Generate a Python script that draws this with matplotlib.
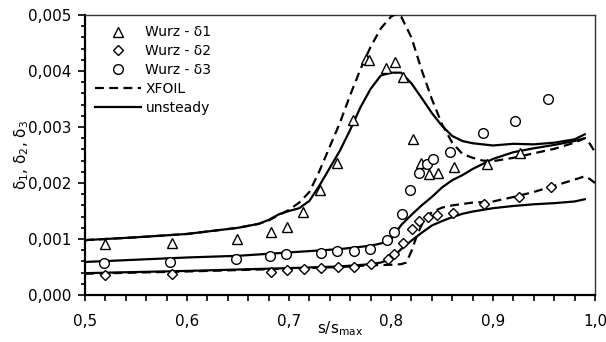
import matplotlib
matplotlib.use("Agg")
import matplotlib.pyplot as plt
from matplotlib.lines import Line2D
from matplotlib.ticker import MultipleLocator, FuncFormatter

# ---- Data ----
# Wurz measurements
s_w1 = [0.520, 0.585, 0.649, 0.682, 0.698, 0.714, 0.730, 0.747, 0.763, 0.775, 0.778,
        0.795, 0.804, 0.812, 0.822, 0.829, 0.837, 0.846, 0.862, 0.894, 0.926]
d_w1 = [0.00091, 0.00093, 0.00100, 0.00113, 0.00121, 0.00148, 0.00187, 0.00236, 0.00312,
        0.00421, 0.00420, 0.00405, 0.00416, 0.00389, 0.00279, 0.00236, 0.00216, 0.00218,
        0.00229, 0.00234, 0.00254]

s_w2 = [0.520, 0.585, 0.682, 0.698, 0.715, 0.731, 0.748, 0.764, 0.780, 0.797, 0.803,
        0.812, 0.821, 0.827, 0.836, 0.845, 0.861, 0.891, 0.925, 0.957]
d_w2 = [0.00036, 0.00037, 0.00041, 0.00044, 0.00046, 0.00048, 0.00050, 0.00050, 0.00055,
        0.00064, 0.00073, 0.00092, 0.00117, 0.00133, 0.00139, 0.00142, 0.00146, 0.00162,
        0.00175, 0.00193]

s_w3 = [0.519, 0.583, 0.648, 0.681, 0.697, 0.731, 0.747, 0.764, 0.779, 0.796, 0.803,
        0.811, 0.819, 0.827, 0.835, 0.841, 0.858, 0.890, 0.922, 0.954]
d_w3 = [0.00057, 0.00059, 0.00064, 0.00070, 0.00073, 0.00075, 0.00078, 0.00079, 0.00082,
        0.00098, 0.00113, 0.00145, 0.00188, 0.00218, 0.00234, 0.00243, 0.00255, 0.00290,
        0.00311, 0.00350]

# XFOIL (dashed)
s_x1 = [0.50, 0.55, 0.60, 0.65, 0.67, 0.68, 0.69, 0.70, 0.71, 0.72, 0.73, 0.74, 0.75,
        0.76, 0.77, 0.78, 0.79, 0.80, 0.805, 0.81, 0.82, 0.83, 0.84, 0.85, 0.86, 0.87,
        0.88, 0.89, 0.90, 0.92, 0.94, 0.96, 0.98, 0.99, 0.995, 1.00]
d_x1 = [0.00098, 0.00103, 0.00109, 0.00120, 0.00127, 0.00133, 0.00143, 0.00152, 0.00165,
        0.00184, 0.00222, 0.00265, 0.00308, 0.00357, 0.00403, 0.00443, 0.00476, 0.00497,
        0.00502, 0.00497, 0.00460, 0.00402, 0.00350, 0.00305, 0.00272, 0.00252, 0.00245,
        0.00240, 0.00239, 0.00245, 0.00253, 0.00261, 0.00272, 0.00280, 0.00270, 0.00255]

s_x2 = [0.50, 0.60, 0.70, 0.75, 0.78, 0.80, 0.81, 0.815, 0.82, 0.825, 0.83, 0.835, 0.84,
        0.85, 0.86, 0.88, 0.90, 0.92, 0.94, 0.96, 0.98, 0.99, 0.995, 1.00]
d_x2 = [0.00038, 0.00042, 0.00047, 0.00050, 0.00053, 0.00054, 0.00055, 0.00058, 0.00078,
        0.00104, 0.00125, 0.00138, 0.00148, 0.00156, 0.00160, 0.00165, 0.00167, 0.00175,
        0.00184, 0.00195, 0.00206, 0.00212, 0.00207, 0.00200]

# unsteady (solid)
s_u1 = [0.50, 0.55, 0.60, 0.65, 0.67, 0.68, 0.69, 0.70, 0.71, 0.72, 0.73, 0.74, 0.75,
        0.76, 0.77, 0.78, 0.79, 0.80, 0.81, 0.82, 0.83, 0.84, 0.85, 0.86, 0.87, 0.88,
        0.90, 0.92, 0.94, 0.96, 0.98, 0.99]
d_u1 = [0.00098, 0.00103, 0.00109, 0.00120, 0.00127, 0.00134, 0.00144, 0.00150, 0.00155,
        0.00168, 0.00196, 0.00227, 0.00258, 0.00295, 0.00335, 0.00368, 0.00392, 0.00397,
        0.00397, 0.00378, 0.00352, 0.00325, 0.00302, 0.00284, 0.00275, 0.00271, 0.00267,
        0.00270, 0.00269, 0.00272, 0.00278, 0.00287]

s_u2 = [0.50, 0.60, 0.70, 0.75, 0.78, 0.79, 0.80, 0.81, 0.82, 0.83, 0.84, 0.85, 0.86,
        0.87, 0.88, 0.90, 0.92, 0.94, 0.96, 0.98, 0.99]
d_u2 = [0.00039, 0.00043, 0.00048, 0.00051, 0.00055, 0.00058, 0.00064, 0.00082, 0.00097,
        0.00111, 0.00124, 0.00132, 0.00139, 0.00145, 0.00149, 0.00155, 0.00159, 0.00162,
        0.00164, 0.00167, 0.00171]

s_u3 = [0.50, 0.55, 0.60, 0.65, 0.70, 0.75, 0.78, 0.79, 0.80, 0.81, 0.82, 0.83, 0.84,
        0.85, 0.86, 0.87, 0.88, 0.90, 0.92, 0.94, 0.96, 0.98, 0.99]
d_u3 = [0.00059, 0.00063, 0.00067, 0.00070, 0.00076, 0.00082, 0.00088, 0.00092, 0.00099,
        0.00125, 0.00143, 0.00160, 0.00175, 0.00192, 0.00205, 0.00214, 0.00225, 0.00243,
        0.00255, 0.00262, 0.00268, 0.00275, 0.00280]

x_ticks = [0.5, 0.6, 0.7, 0.8, 0.9, 1.0]
y_ticks = [0.000, 0.001, 0.002, 0.003, 0.004, 0.005]

# ---- Plot ----
plt.rcParams['font.family'] = ['DejaVu Sans']
plt.rcParams['mathtext.fontset'] = 'dejavusans'

fig = plt.figure(figsize=(6.06, 3.42), dpi=100)
ax = fig.add_axes([85/606, 1 - 295/342, 510/606, 280/342])

lw = 1.6
dash = (4, 2.4)
for s, d in [(s_x1, d_x1), (s_x2, d_x2)]:
    ax.plot(s, d, color='black', lw=lw, dashes=dash, zorder=3)
for s, d in [(s_u1, d_u1), (s_u2, d_u2), (s_u3, d_u3)]:
    ax.plot(s, d, color='black', lw=lw, ls='-', zorder=3)

mk = dict(ls='none', mfc='white', mec='black', mew=1.0, zorder=4)
ax.plot(s_w1, d_w1, marker='^', ms=7, **mk)
ax.plot(s_w2, d_w2, marker='D', ms=5, **mk)
ax.plot(s_w3, d_w3, marker='o', ms=7, **mk)

ax.set_xlim(0.5, 1.0)
ax.set_ylim(0.0, 0.005)
ax.set_xticks(x_ticks)
ax.set_yticks(y_ticks)
ax.xaxis.set_minor_locator(MultipleLocator(0.02))
ax.yaxis.set_minor_locator(MultipleLocator(0.0002))
ax.xaxis.set_major_formatter(FuncFormatter(lambda v, p: f"{v:.1f}".replace('.', ',')))
ax.yaxis.set_major_formatter(FuncFormatter(lambda v, p: f"{v:.3f}".replace('.', ',')))

ax.tick_params(axis='x', which='both', direction='out', length=4, width=1.2,
               labelsize=11, pad=10)
ax.tick_params(axis='y', which='major', direction='out', length=5, width=1.2,
               labelsize=11, pad=5)
ax.tick_params(axis='y', which='minor', direction='out', length=3, width=1.2)

for side in ['left', 'bottom']:
    ax.spines[side].set_linewidth(1.6)
    ax.spines[side].set_color('black')
for side in ['top', 'right']:
    ax.spines[side].set_linewidth(1.0)
    ax.spines[side].set_color('#333333')

ax.set_xlabel('s/s$_{\\mathrm{max}}$', fontsize=11)
ax.xaxis.set_label_coords(0.5, -0.085)
ax.set_ylabel('δ$_1$, δ$_2$, δ$_3$', fontsize=11)
ax.yaxis.set_label_coords(-0.105, 0.5)

handles = [
    Line2D([], [], marker='^', ms=7, **mk),
    Line2D([], [], marker='D', ms=5, **mk),
    Line2D([], [], marker='o', ms=7, **mk),
    Line2D([], [], color='black', lw=lw, dashes=dash),
    Line2D([], [], color='black', lw=lw, ls='-'),
]
labels = ['Wurz - δ1', 'Wurz - δ2', 'Wurz - δ3', 'XFOIL', 'unsteady']
ax.legend(handles, labels, loc='upper left', bbox_to_anchor=(0.0, 1.0),
          frameon=False, fontsize=10, handlelength=3.3, handletextpad=0.3,
          labelspacing=0.35, borderaxespad=0.35, numpoints=1)

fig.savefig('out.png', dpi=100)
